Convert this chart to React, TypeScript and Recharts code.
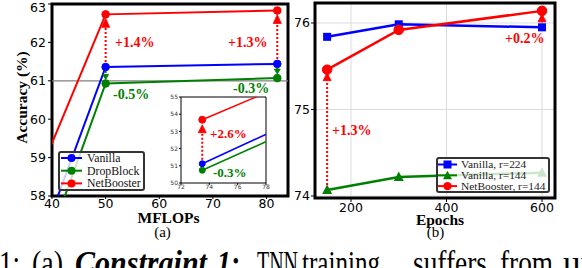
import React from 'react';
import { LineChart, Line, XAxis, YAxis, CartesianGrid, ReferenceLine, ReferenceDot, ReferenceArea, Legend } from 'recharts';

// ---------- (a) main plot data ----------
const mflops = [35, 50, 82];
const accVanilla = [55.7, 61.36, 61.44];
const accDropBlock = [55.14, 60.93, 61.07];
const accNetBooster = [57.7, 62.73, 62.83];
const mflopsTicks = [40, 50, 60, 70, 80];
const accTicksA = [58, 59, 60, 61, 62, 63];
const gainLabelsA = ['+1.4%', '+1.3%'];
const dropLabelsA = ['-0.5%', '-0.3%'];

// ---------- (a) inset data ----------
const insetMflops = [73.5, 82];
const insetVanilla = [51.12, 54.35];
const insetDropBlock = [50.74, 53.88];
const insetNetBooster = [53.68, 56.63];
const insetXTicks = [72, 74, 76, 78];
const insetYTicks = [50, 51, 52, 53, 54, 55];
const insetGainLabel = '+2.6%';
const insetDropLabel = '-0.3%';

// ---------- (b) data ----------
const epochs = [150, 300, 600];
const accVanilla224 = [75.84, 75.985, 75.95];
const accVanilla144 = [74.07, 74.22, 74.27];
const accNetBooster144 = [75.46, 75.92, 76.14];
const epochTicks = [200, 400, 600];
const accTicksB = [74, 75, 76];
const gainLabelsB = ['+1.3%', '+0.2%'];

const legendNamesA = ['Vanilla', 'DropBlock', 'NetBooster'];
const legendNamesB = ['Vanilla, r=224', 'Vanilla, r=144', 'NetBooster, r=144'];

const RED = '#ff0000';
const BLUE = '#0000ff';
const GREEN = '#008000';
const SERIF = "'Liberation Serif', 'Times New Roman', serif";
const SANS = "'DejaVu Sans', sans-serif";

const dataA = mflops.map((x, i) => ({ x, vanilla: accVanilla[i], dropblock: accDropBlock[i], netbooster: accNetBooster[i] }));
const dataInset = insetMflops.map((x, i) => ({ x, vanilla: insetVanilla[i], dropblock: insetDropBlock[i], netbooster: insetNetBooster[i] }));
const dataB = epochs.map((x, i) => ({ x, v224: accVanilla224[i], v144: accVanilla144[i], nb144: accNetBooster144[i] }));

// pixels per unit of each y axis (used only for small offsets of annotation arrows)
const PX_A = 38.4;
const PX_IN = 17.2;
const PX_B = 86.5;

const arrowHead = (color: string, dir: 'up' | 'down', w: number, h: number, gap: number) => (p: any) => {
  const { cx, cy } = p;
  if (cx == null || cy == null) return <g />;
  const tip = dir === 'up' ? cy + gap : cy - gap;
  const base = dir === 'up' ? tip + h : tip - h;
  return <path d={`M${cx},${tip} L${cx - w / 2},${base} L${cx + w / 2},${base} Z`} fill={color} stroke={color} strokeWidth={0.8} />;
};

const annot = (text: string, color: string, size: number) => (p: any) => {
  const { cx, cy } = p;
  if (cx == null || cy == null) return <g />;
  return (
    <text x={cx} y={cy} fill={color} fontSize={size} fontWeight="bold" fontFamily={SERIF}>
      {text}
    </text>
  );
};

const squareDot = (color: string) => (p: any) => (
  <rect key={`sq${p.index}`} x={p.cx - 4} y={p.cy - 4} width={8} height={8} fill={color} />
);
const triDot = (color: string) => (p: any) => (
  <path key={`tr${p.index}`} d={`M${p.cx},${p.cy - 5.5} L${p.cx - 5},${p.cy + 4} L${p.cx + 5},${p.cy + 4} Z`} fill={color} />
);

const colorsA = [BLUE, GREEN, RED];
const LegendBoxA = () => (
  <div style={{ boxSizing: 'border-box', width: 87, height: 40, border: '2px solid #333', borderRadius: 3, background: 'rgba(255,255,255,0.8)' }}>
    <svg width={83} height={36} style={{ display: 'block' }}>
      {legendNamesA.map((n, i) => {
        const cy = 5 + i * 12.7;
        return (
          <g key={n}>
            <line x1={1} x2={22} y1={cy} y2={cy} stroke={colorsA[i]} strokeWidth={2} />
            <circle cx={11.5} cy={cy} r={4} fill={colorsA[i]} />
            <text x={27} y={cy + 4} fontFamily={SERIF} fontSize={11.8} fill="#111">{n}</text>
          </g>
        );
      })}
    </svg>
  </div>
);

const colorsB = [BLUE, GREEN, RED];
const LegendBoxB = () => (
  <div style={{ boxSizing: 'border-box', width: 114, height: 36, border: '2px solid #333', borderRadius: 3, background: 'rgba(255,255,255,0.8)' }}>
    <svg width={110} height={32} style={{ display: 'block' }}>
      {legendNamesB.map((n, i) => {
        const cy = 5.5 + i * 10.8;
        return (
          <g key={n}>
            <line x1={0} x2={19} y1={cy} y2={cy} stroke={colorsB[i]} strokeWidth={2} />
            {i === 0 && <rect x={5.5} y={cy - 4} width={8} height={8} fill={colorsB[i]} />}
            {i === 1 && <path d={`M9.5,${cy - 4.5} L5,${cy + 4} L14,${cy + 4} Z`} fill={colorsB[i]} />}
            {i === 2 && <circle cx={9.5} cy={cy} r={4.2} fill={colorsB[i]} />}
            <text x={23} y={cy + 3.8} fontFamily={SERIF} fontSize={11.4} fill="#222">{n}</text>
          </g>
        );
      })}
    </svg>
  </div>
);

const captionWords = [
  { t: '1:', x: -1, w: 21, bi: false },
  { t: '(a)', x: 32, w: 31, bi: false },
  { t: 'Constraint', x: 75, w: 132, bi: true },
  { t: '1:', x: 217, w: 23, bi: true },
  { t: 'TNN', x: 257, w: 41, bi: false },
  { t: 'training', x: 302, w: 78, bi: false },
  { t: 'suffers', x: 413, w: 74, bi: false },
  { t: 'from', x: 500, w: 53, bi: false },
  { t: 'under', x: 563, w: 80, bi: false },
];

let measureCtx: CanvasRenderingContext2D | null = null;
function measure(text: string, font: string): number {
  if (!measureCtx) measureCtx = document.createElement('canvas').getContext('2d');
  if (!measureCtx) return text.length * 15;
  measureCtx.font = font;
  return measureCtx.measureText(text).width;
}

const CAP_SIZE = 34;

export default function App() {
  const tickA = { fontSize: 12.5, fill: '#000', fontFamily: SANS };
  const tickIn = { fontSize: 6, fill: '#333', fontFamily: SANS };
  return (
    <div style={{ position: 'absolute', left: 0, top: 0, width: 582, height: 268, overflow: 'hidden', background: '#fff' }}>
      {/* ---------------- (a) ---------------- */}
      <div style={{ position: 'absolute', left: 0, top: 0 }}>
        <LineChart width={300} height={268} data={dataA} margin={{ top: 4, right: 12, bottom: 52, left: 0 }}>
          <XAxis dataKey="x" type="number" domain={[40, 84]} ticks={mflopsTicks} allowDataOverflow height={20}
            axisLine={false} tickSize={3} tickMargin={0} tick={tickA} tickLine={{ stroke: '#000' }} />
          <YAxis type="number" domain={[58, 63]} ticks={accTicksA} allowDataOverflow width={52}
            axisLine={false} tickSize={4} tickMargin={2} tick={tickA} tickLine={{ stroke: '#000' }} />
          <ReferenceLine y={61} stroke="#808080" strokeWidth={1.2} />
          <Line dataKey="vanilla" stroke={BLUE} strokeWidth={2} dot={{ r: 3.8, fill: BLUE, stroke: BLUE, strokeWidth: 1 }} activeDot={false} isAnimationActive={false} />
          <Line dataKey="dropblock" stroke={GREEN} strokeWidth={2} dot={{ r: 3.8, fill: GREEN, stroke: GREEN, strokeWidth: 1 }} activeDot={false} isAnimationActive={false} />
          <Line dataKey="netbooster" stroke={RED} strokeWidth={2} dot={{ r: 3.8, fill: RED, stroke: RED, strokeWidth: 1 }} activeDot={false} isAnimationActive={false} />
          {[1, 2].map((i) => (
            <ReferenceLine key={`ra${i}`} segment={[{ x: mflops[i], y: accVanilla[i] + 5 / PX_A }, { x: mflops[i], y: accNetBooster[i] - 12 / PX_A }]}
              stroke={RED} strokeWidth={2} strokeDasharray="2 2" />
          ))}
          {[1, 2].map((i) => (
            <ReferenceDot key={`rh${i}`} x={mflops[i]} y={accNetBooster[i]} r={0} shape={arrowHead(RED, 'up', 8, 9, 4)} />
          ))}
          {[1, 2].map((i) => (
            <ReferenceLine key={`ga${i}`} segment={[{ x: mflops[i], y: accVanilla[i] - 4 / PX_A }, { x: mflops[i], y: accDropBlock[i] + 8 / PX_A }]}
              stroke={GREEN} strokeWidth={2} strokeDasharray="2 1.5" />
          ))}
          {[1, 2].map((i) => (
            <ReferenceDot key={`gh${i}`} x={mflops[i]} y={accDropBlock[i]} r={0} shape={arrowHead(GREEN, 'down', 6, 5, 4)} />
          ))}
          <ReferenceDot x={51.75} y={61.88} r={0} shape={annot(gainLabelsA[0], RED, 14)} />
          <ReferenceDot x={72.8} y={61.88} r={0} shape={annot(gainLabelsA[1], RED, 14)} />
          <ReferenceDot x={51.37} y={60.53} r={0} shape={annot(dropLabelsA[0], GREEN, 14)} />
          <ReferenceDot x={73.75} y={60.68} r={0} shape={annot(dropLabelsA[1], GREEN, 14)} />
          <ReferenceArea x1={40} x2={84} y1={58} y2={63} fill="none" fillOpacity={0} stroke="#000" strokeWidth={3} />
          <Legend layout="vertical" align="center" verticalAlign="middle" content={() => <LegendBoxA />}
            wrapperStyle={{ left: 58, top: 151, width: 87, height: 40 }} />
        </LineChart>
      </div>

      {/* ---------------- (a) inset ---------------- */}
      <div style={{ position: 'absolute', left: 181, top: 97, width: 85, height: 86, background: '#fff' }} />
      <div style={{ position: 'absolute', left: 160, top: 90 }}>
        <LineChart width={110} height={105} data={dataInset} margin={{ top: 7, right: 4, bottom: 0, left: 0 }}>
          <XAxis dataKey="x" type="number" domain={[72, 78]} ticks={insetXTicks} allowDataOverflow height={12}
            axisLine={false} tickSize={2} tickMargin={0} tick={tickIn} tickLine={{ stroke: '#000' }} />
          <YAxis type="number" domain={[50, 55]} ticks={insetYTicks} allowDataOverflow width={21}
            axisLine={false} tickSize={2} tickMargin={1} tick={tickIn} tickLine={{ stroke: '#000' }} />
          <Line dataKey="vanilla" stroke={BLUE} strokeWidth={1.5} dot={{ r: 3, fill: BLUE, stroke: BLUE, strokeWidth: 1 }} activeDot={false} isAnimationActive={false} />
          <Line dataKey="dropblock" stroke={GREEN} strokeWidth={1.5} dot={{ r: 3, fill: GREEN, stroke: GREEN, strokeWidth: 1 }} activeDot={false} isAnimationActive={false} />
          <Line dataKey="netbooster" stroke={RED} strokeWidth={1.5} dot={{ r: 3.5, fill: RED, stroke: RED, strokeWidth: 1 }} activeDot={false} isAnimationActive={false} />
          <ReferenceLine segment={[{ x: insetMflops[0], y: insetVanilla[0] + 4 / PX_IN }, { x: insetMflops[0], y: insetNetBooster[0] - 12 / PX_IN }]}
            stroke={RED} strokeWidth={2} strokeDasharray="2 2" />
          <ReferenceDot x={insetMflops[0]} y={insetNetBooster[0]} r={0} shape={arrowHead(RED, 'up', 8, 8, 5)} />
          <ReferenceLine segment={[{ x: insetMflops[0], y: insetVanilla[0] - 2 / PX_IN }, { x: insetMflops[0], y: insetDropBlock[0] + 2 / PX_IN }]}
            stroke={GREEN} strokeWidth={2} strokeDasharray="1.5 1.5" />
          <ReferenceDot x={74.05} y={52.62} r={0} shape={annot(insetGainLabel, RED, 13)} />
          <ReferenceDot x={74.26} y={50.35} r={0} shape={annot(insetDropLabel, GREEN, 13)} />
          <ReferenceArea x1={72} x2={78} y1={50} y2={55} fill="none" fillOpacity={0} stroke="#000" strokeWidth={1} />
        </LineChart>
      </div>

      {/* ---------------- (b) ---------------- */}
      <div style={{ position: 'absolute', left: 290, top: 0 }}>
        <LineChart width={292} height={268} data={dataB} margin={{ top: 3, right: 27, bottom: 50, left: 0 }}>
          <CartesianGrid stroke="#dcdcdc" strokeWidth={1} />
          <XAxis dataKey="x" type="number" domain={[124.6, 627.2]} ticks={epochTicks} allowDataOverflow height={20}
            axisLine={false} tickSize={4} tickMargin={1} tick={tickA} tickLine={{ stroke: '#000' }} />
          <YAxis type="number" domain={[73.977, 76.231]} ticks={accTicksB} allowDataOverflow width={25}
            axisLine={false} tickSize={4} tickMargin={1} tick={tickA} tickLine={{ stroke: '#000' }} />
          <Line dataKey="v224" stroke={BLUE} strokeWidth={2.5} dot={squareDot(BLUE)} activeDot={false} isAnimationActive={false} />
          <Line dataKey="v144" stroke={GREEN} strokeWidth={2.5} dot={triDot(GREEN)} activeDot={false} isAnimationActive={false} />
          <Line dataKey="nb144" stroke={RED} strokeWidth={2.5} dot={{ r: 4.8, fill: RED, stroke: RED, strokeWidth: 1 }} activeDot={false} isAnimationActive={false} />
          <ReferenceLine segment={[{ x: epochs[0], y: accVanilla144[0] + 5 / PX_B }, { x: epochs[0], y: accNetBooster144[0] - 11 / PX_B }]}
            stroke={RED} strokeWidth={2} strokeDasharray="2 2" />
          <ReferenceDot x={epochs[0]} y={accNetBooster144[0]} r={0} shape={arrowHead(RED, 'up', 8, 8, 3)} />
          <ReferenceLine segment={[{ x: epochs[2], y: accVanilla224[2] + 1 / PX_B }, { x: epochs[2], y: accNetBooster144[2] - 10 / PX_B }]}
            stroke={RED} strokeWidth={2} strokeDasharray="2 2" />
          <ReferenceDot x={epochs[2]} y={accNetBooster144[2]} r={0} shape={arrowHead(RED, 'up', 8, 8, 3)} />
          <ReferenceDot x={160.2} y={74.705} r={0} shape={annot(gainLabelsB[0], RED, 14)} />
          <ReferenceDot x={522.5} y={75.77} r={0} shape={annot(gainLabelsB[1], RED, 14)} />
          <ReferenceArea x1={124.6} x2={627.2} y1={73.977} y2={76.231} fill="none" fillOpacity={0} stroke="#000" strokeWidth={3} />
          <Legend layout="vertical" align="center" verticalAlign="middle" content={() => <LegendBoxB />}
            wrapperStyle={{ left: 146, top: 157, width: 114, height: 36 }} />
        </LineChart>
      </div>

      {/* ---------------- titles & caption ---------------- */}
      <svg width={582} height={268} style={{ position: 'absolute', left: 0, top: 0, pointerEvents: 'none' }}>
        <text x={21} y={97.5} transform="rotate(-90 21 97.5)" textAnchor="middle" dominantBaseline="central"
          fontFamily={SERIF} fontWeight="bold" fontSize={15.5} fill="#000">Accuracy (%)</text>
        <text x={168.5} y={223} textAnchor="middle" fontFamily={SERIF} fontWeight="bold" fontSize={15.5} fill="#000">MFLOPs</text>
        <text x={162.5} y={237} textAnchor="middle" fontFamily={SERIF} fontSize={15} fill="#000">(a)</text>
        <text x={440} y={225} textAnchor="middle" fontFamily={SERIF} fontWeight="bold" fontSize={15.5} fill="#000">Epochs</text>
        <text x={435.5} y={237} textAnchor="middle" fontFamily={SERIF} fontSize={15} fill="#000">(b)</text>
        {captionWords.map((w, i) => {
          const font = `${w.bi ? 'italic bold ' : ''}${CAP_SIZE}px 'Liberation Serif'`;
          const natural = measure(w.t, font) || 1;
          const sx = w.w / natural;
          return (
            <text key={i} transform={`translate(${w.x} 274) scale(${sx.toFixed(3)} 1)`} x={0} y={0}
              fontFamily={SERIF} fontSize={CAP_SIZE} fill="#000"
              fontWeight={w.bi ? 'bold' : 'normal'} fontStyle={w.bi ? 'italic' : 'normal'}>{w.t}</text>
          );
        })}
      </svg>
    </div>
  );
}
